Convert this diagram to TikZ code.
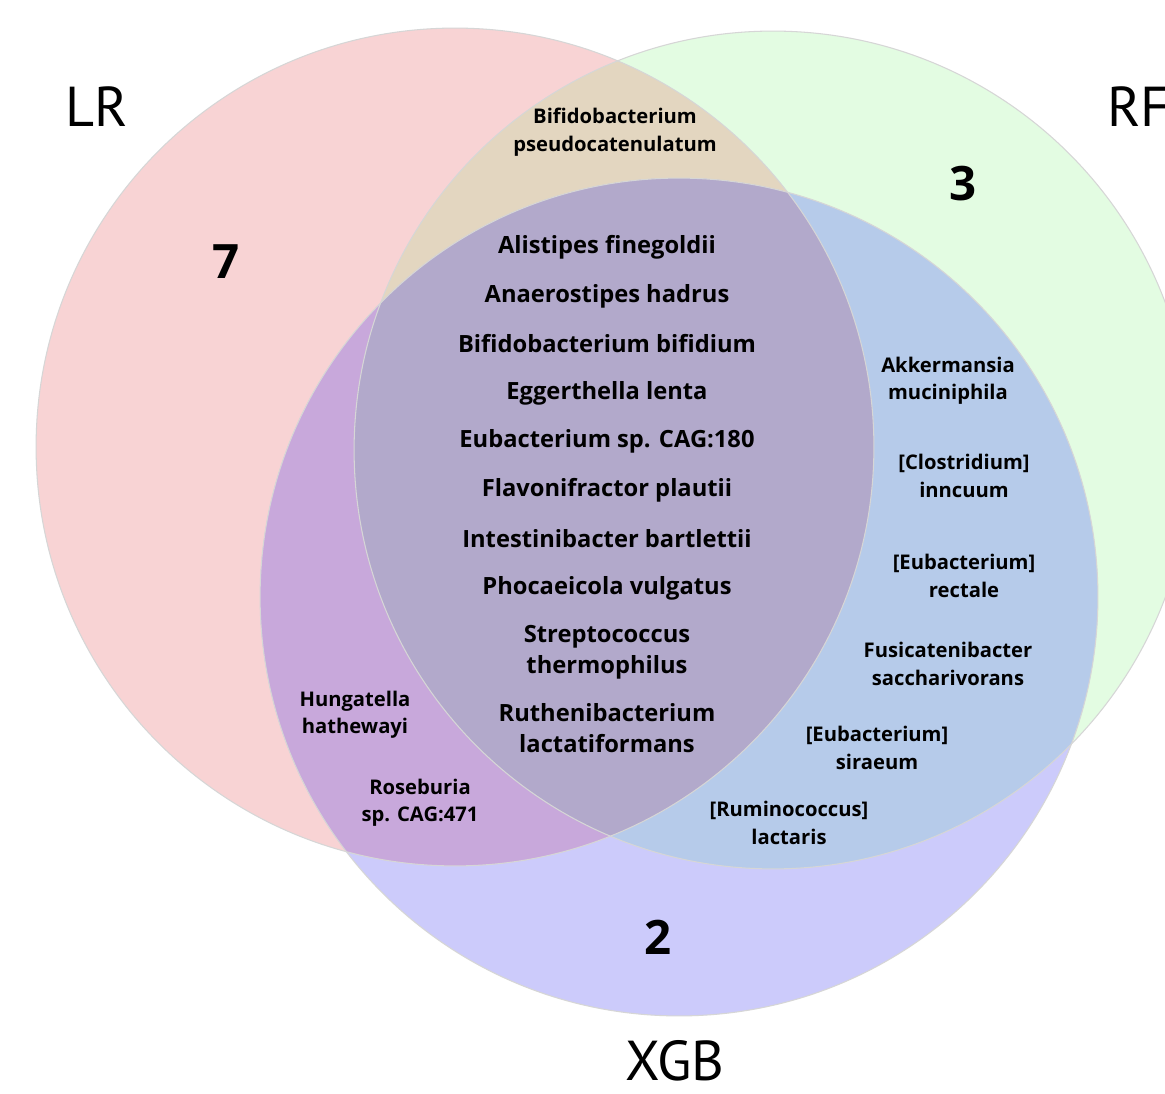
\documentclass[tikz,border=0pt]{standalone}
\usepackage{fontspec}
\setmainfont{PT Sans}
\newfontfamily\spfont{Open Sans}
\definecolor{cLR}{HTML}{F8D3D4}
\definecolor{cRF}{HTML}{E3FCE2}
\definecolor{cXGB}{HTML}{CCCBFB}
\definecolor{cLRRF}{HTML}{E3D6C0}
\definecolor{cLRXGB}{HTML}{C8A8DB}
\definecolor{cRFXGB}{HTML}{B6CBEA}
\definecolor{cALL}{HTML}{B2A9CB}
\begin{document}
\begin{tikzpicture}[x=0.02cm,y=-0.02cm,
  sp/.style={font=\spfont\bfseries\fontsize{13.5}{17.6}\selectfont, align=center, inner sep=0},
  sm/.style={font=\spfont\bfseries\fontsize{11.5}{15.6}\selectfont, align=center, inner sep=0},
  num/.style={font=\spfont\bfseries\fontsize{27}{30}\selectfont, inner sep=0},
  setlabel/.style={font=\fontsize{32}{34}\selectfont, inner sep=0},
  rim/.style={draw=black!16, line width=0.6pt}]
\useasboundingbox (0,0) rectangle (1165,1094);
\fill[white] (0,0) rectangle (1165,1094);
\def\pLR{(455,447) circle[radius=8.38cm]}
\def\pRF{(773,450) circle[radius=8.38cm]}
\def\pXGB{(679,597) circle[radius=8.38cm]}
% base fills
\fill[cLR] \pLR;
\fill[cRF] \pRF;
\fill[cXGB] \pXGB;
% pairwise overlaps
\begin{scope}\clip \pLR; \fill[cLRRF] \pRF; \end{scope}
\begin{scope}\clip \pLR; \fill[cLRXGB] \pXGB; \end{scope}
\begin{scope}\clip \pRF; \fill[cRFXGB] \pXGB; \end{scope}
\begin{scope}\clip \pLR; \clip \pRF; \fill[cALL] \pXGB; \end{scope}
% rims
\path[rim] \pLR;
\path[rim] \pRF;
\path[rim] \pXGB;
% set labels
\node[setlabel] (lLR) at (97,107) {LR};
\node[setlabel, anchor=west] (lRF) at (1107,107) {RF};
\node[setlabel] (lXGB) at (675,1061) {XGB};
% counts
\node[num] (n7) at (226,262) {7};
\node[num] (n3) at (963,184) {3};
\node[num] (n2) at (658,937) {2};
% LR & RF only
\node[sm] (bpseudo) at (615,132) {Bifidobacterium\\pseudocatenulatum};
% all three
\node[sp] (s1) at (607,247) {Alistipes finegoldii};
\node[sp] (s2) at (607,296) {Anaerostipes hadrus};
\node[sp] (s3) at (607,344) {Bifidobacterium bifidium};
\node[sp] (s4) at (607,393) {Eggerthella lenta};
\node[sp] (s5) at (607,441) {Eubacterium sp. CAG:180};
\node[sp] (s6) at (607,490) {Flavonifractor plautii};
\node[sp] (s7) at (607,539) {Intestinibacter bartlettii};
\node[sp] (s8) at (607,588) {Phocaeicola vulgatus};
\node[sp] (s9) at (607,652) {Streptococcus\\thermophilus};
\node[sp] (s10) at (607,728) {Ruthenibacterium\\lactatiformans};
% RF & XGB
\node[sm] (r1) at (948,381) {Akkermansia\\muciniphila};
\node[sm] (r2) at (964,476) {[Clostridium]\\inncuum};
\node[sm] (r3) at (964,576) {[Eubacterium]\\rectale};
\node[sm] (r4) at (948,664) {Fusicatenibacter\\saccharivorans};
\node[sm] (r5) at (877,748) {[Eubacterium]\\siraeum};
\node[sm] (r6) at (789,823) {[Ruminococcus]\\lactaris};
% LR & XGB
\node[sm] (l1) at (355,715) {Hungatella\\hathewayi};
\node[sm] (l2) at (420,803) {Roseburia\\sp. CAG:471};
\end{tikzpicture}
\end{document}
